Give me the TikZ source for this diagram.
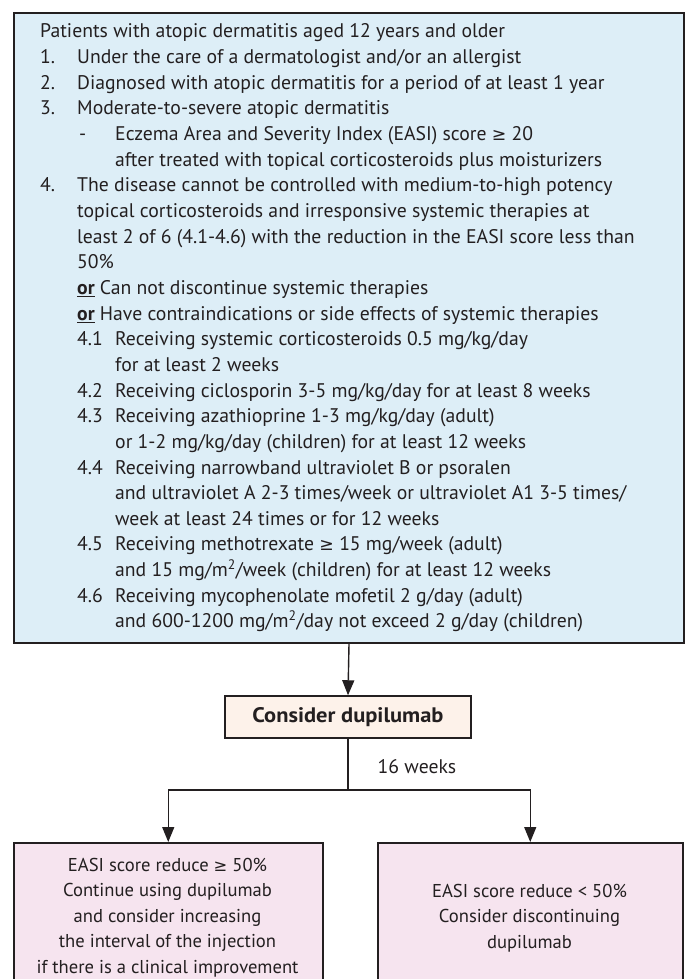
\documentclass[tikz,border=0pt]{standalone}
\usepackage{fontspec}
\setmainfont{PT Sans}
\newfontfamily\wideff{PT Sans}[FakeStretch=1.07]
\newfontfamily\symfont{DejaVu Sans}[Scale=0.88]
\usetikzlibrary{arrows.meta}
\definecolor{ink}{HTML}{231F20}
\definecolor{bluefill}{HTML}{DDEEF7}
\definecolor{peachfill}{HTML}{FDF2EA}
\definecolor{pinkfill}{HTML}{F6E4EF}
\tikzset{
  box/.style={draw=ink, line width=1.5pt, inner sep=0pt},
  conn/.style={draw=ink, line width=1.4pt, -{Triangle[length=15pt,width=12pt]}},
  plainline/.style={draw=ink, line width=1.4pt},
  normtext/.style={font=\fontsize{19.7}{25.65}\selectfont},
}
\newcommand{\orword}{\underline{\textbf{or}}}
\newcommand{\gesym}{{\symfont ≥}}
\begin{document}
\begin{tikzpicture}[x=1pt,y=-1pt,text=ink]
\useasboundingbox (0,0) rectangle (688,979);
% criteria box
\node[box, fill=bluefill, line width=2pt, minimum width=670pt, minimum height=630pt, anchor=north west] (crit) at (13,12) {};
\node[anchor=base west, inner sep=0pt] (crittext) at (40,38) {\parbox[t]{640pt}{\fontsize{19.7}{25.65}\selectfont
Patients with atopic dermatitis aged 12 years and older\\
\makebox[37pt][l]{1.}Under the care of a dermatologist and/or an allergist\\
\makebox[37pt][l]{2.}Diagnosed with atopic dermatitis for a period of at least 1 year\\
\makebox[37pt][l]{3.}Moderate-to-severe atopic dermatitis\\
\hspace*{39pt}\makebox[36pt][l]{-}Eczema Area and Severity Index (EASI) score \gesym{} 20\\
\hspace*{75pt}after treated with topical corticosteroids plus moisturizers\\
\makebox[37pt][l]{4.}The disease cannot be controlled with medium-to-high potency\\
\hspace*{37pt}topical corticosteroids and irresponsive systemic therapies at\\
\hspace*{37pt}least 2 of 6 (4.1-4.6) with the reduction in the EASI score less than\\
\hspace*{37pt}50\%\\
\hspace*{37pt}\orword{} Can not discontinue systemic therapies\\
\hspace*{37pt}\orword{} Have contraindications or side effects of systemic therapies\\
\hspace*{37pt}\makebox[38pt][l]{4.1}Receiving systemic corticosteroids 0.5 mg/kg/day\\
\hspace*{75pt}for at least 2 weeks\\
\hspace*{37pt}\makebox[38pt][l]{4.2}Receiving ciclosporin 3-5 mg/kg/day for at least 8 weeks\\
\hspace*{37pt}\makebox[38pt][l]{4.3}Receiving azathioprine 1-3 mg/kg/day (adult)\\
\hspace*{75pt}or 1-2 mg/kg/day (children) for at least 12 weeks\\
\hspace*{37pt}\makebox[38pt][l]{4.4}Receiving narrowband ultraviolet B or psoralen\\
\hspace*{75pt}and ultraviolet A 2-3 times/week or ultraviolet A1 3-5 times/\\
\hspace*{75pt}week at least 24 times or for 12 weeks\\
\hspace*{37pt}\makebox[38pt][l]{4.5}Receiving methotrexate \gesym{} 15 mg/week (adult)\\
\hspace*{75pt}and 15 mg/m\textsuperscript{2}/week (children) for at least 12 weeks\\
\hspace*{37pt}\makebox[38pt][l]{4.6}Receiving mycophenolate mofetil 2 g/day (adult)\\
\hspace*{75pt}and 600-1200 mg/m\textsuperscript{2}/day not exceed 2 g/day (children)\par}};
% decision box
\node[box, fill=peachfill, minimum width=246pt, minimum height=42pt, font=\wideff\bfseries\fontsize{21}{25}\selectfont] (dupi) at (348,717) {Consider dupilumab};
\draw[conn] (crit.south) -- (dupi.north);
\coordinate (split) at (348,790);
\draw[plainline] (dupi.south) -- (split);
\node[normtext, inner sep=0pt] (weeks) at (417,767) {16 weeks};
% outcome boxes
\node[box, fill=pinkfill, minimum width=309pt, minimum height=160pt, anchor=north west] (good) at (13,842) {};
\node[box, fill=pinkfill, minimum width=305pt, minimum height=160pt, anchor=north west] (poor) at (377,842) {};
\draw[conn] (split) -| (good.north);
\draw[conn] (split) -| (poor.north);
\node[anchor=base, inner sep=0pt] (goodtext) at (167.5,871) {\parbox[t]{305pt}{\centering\fontsize{18.6}{25.65}\selectfont
EASI score reduce \gesym{} 50\%\\
Continue using dupilumab\\
and consider increasing\\
the interval of the injection\\
if there is a clinical improvement\par}};
\node[anchor=base, inner sep=0pt] (poortext) at (529.5,897) {\parbox[t]{300pt}{\centering\fontsize{18.6}{25.65}\selectfont
EASI score reduce < 50\%\\
Consider discontinuing\\
dupilumab\par}};
\end{tikzpicture}
\end{document}
